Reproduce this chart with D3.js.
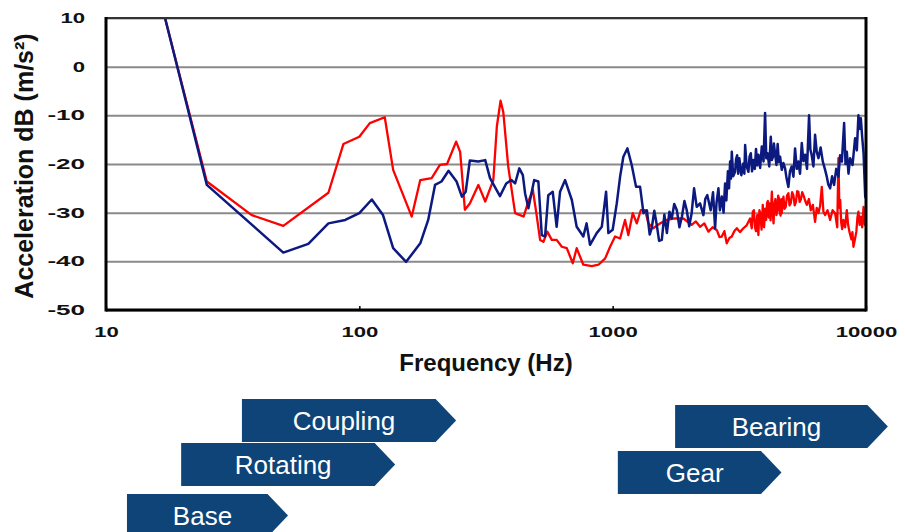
<!DOCTYPE html>
<html>
<head>
<meta charset="utf-8">
<script src="https://cdn.jsdelivr.net/npm/d3@7"></script>
<style>
body { margin: 0; background: #fff; }
svg { display: block; font-family: "Liberation Sans", Arial, sans-serif; }
</style>
</head>
<body>
<script>
// tick values
var xTicks = [10, 100, 1000, 10000];
var yTicks = [10, 0, -10, -20, -30, -40, -50];

// red trace: frequency (Hz) and level (dB)
var redHz = [17.1, 25, 37.6, 50.1, 75.5, 86.5, 100, 110, 126, 136,
  161, 174, 193, 208, 222, 241, 250, 261, 273, 295,
  314, 338, 349, 361, 370, 387, 412, 431, 445, 465,
  484, 501, 517, 533, 552, 575, 601, 630, 659, 696,
  721, 743, 766, 827, 879, 934, 977, 1022, 1070, 1119,
  1153, 1200, 1245, 1291, 1343, 1384, 1446, 1539, 1637, 1736,
  1902, 2050, 2130, 2213, 2300, 2388, 2480, 2578, 2640, 2696,
  2760, 2820, 2890, 2953, 3020, 3091, 3180, 3281, 3380, 3487,
  3540, 3575, 3610, 3645, 3680, 3720, 3760, 3795, 3830, 3870,
  3913, 3960, 4000, 4034, 4070, 4100, 4130, 4157, 4200, 4250,
  4280, 4315, 4350, 4390, 4430, 4467, 4500, 4530, 4565, 4600,
  4630, 4653, 4690, 4723, 4770, 4820, 4880, 4939, 4990, 5050,
  5110, 5169, 5230, 5290, 5350, 5408, 5470, 5530, 5600, 5662,
  5750, 5838, 5950, 6055, 6170, 6295, 6390, 6490, 6590, 6692,
  6790, 6895, 7050, 7217, 7380, 7551, 7700, 7783, 7850, 7910,
  7980, 8050, 8143, 8270, 8400, 8500, 8600, 8760, 8840, 8920,
  9040, 9160, 9250, 9335, 9440, 9540, 9660, 9780, 9900, 10000];
var redDb = [10, -23.6, -30.5, -32.7, -25.9, -15.9, -14.4, -11.6, -10.4, -21.2,
  -30.8, -23.3, -22.9, -20.2, -20, -15.4, -17.5, -29.4, -28.1, -24.3,
  -27.7, -23.3, -12.3, -7.0, -9.3, -20.5, -30.1, -30.5, -30.8, -27.7,
  -25.3, -30.5, -35.6, -36, -33.9, -35.6, -35.6, -37, -37.3, -40.4,
  -37.3, -39, -40.7, -41, -40.7, -39.4, -37, -34.9, -35.3, -31.5,
  -34.6, -30.1, -32.2, -29.5, -29.5, -32.2, -33.2, -32.2, -31.5, -31.2,
  -31.2, -32.5, -31.8, -32.9, -32.2, -33.9, -33, -33.6, -35, -34.9,
  -33.8, -36.3, -35.2, -34.9, -33.8, -33.2, -34, -33.2, -32.6, -31.2,
  -33.2, -29.8, -29.5, -33, -33.8, -30.5, -34.6, -29.5, -30.2, -33.5,
  -28.4, -33, -29.2, -31.5, -28, -27.6, -31, -28.1, -31.6, -25.7,
  -29.5, -32.2, -28.2, -27.2, -30.5, -29.5, -26.5, -27, -29.8, -30.6,
  -27.2, -30.1, -27.5, -26.7, -29.2, -28.8, -26.5, -26, -28.5, -28,
  -25.8, -26.4, -28.5, -27.8, -25.6, -25.7, -27.8, -27.3, -25.8, -26.4,
  -27.5, -28.4, -27.2, -29.5, -28.4, -31.9, -29, -30.1, -28.6, -24.7,
  -29.8, -30.5, -29.5, -31.5, -29.5, -30.1, -33, -18.8, -29, -27.4,
  -32, -33.4, -31.5, -33, -29.5, -32.5, -33.9, -35.5, -34, -37,
  -35.5, -33.9, -31, -29.8, -32.5, -30.8, -33, -28.8, -32.5, -31.2];

// blue trace: frequency (Hz) and level (dB)
var blueHz = [17.1, 25, 50.1, 62.9, 75.5, 88, 100, 112, 124, 136,
  153, 174, 187, 199, 211, 225, 242, 254, 263, 273,
  295, 314, 328, 359, 380, 399, 412, 428, 442, 451,
  465, 490, 509, 525, 541, 557, 580, 601, 620, 649,
  690, 721, 766, 789, 814, 865, 906, 942, 962, 1000,
  1038, 1070, 1102, 1143, 1189, 1237, 1283, 1323, 1365, 1400,
  1426, 1460, 1493, 1525, 1563, 1600, 1637, 1675, 1711, 1750,
  1792, 1835, 1877, 1920, 1961, 2005, 2050, 2096, 2147, 2213,
  2281, 2320, 2364, 2437, 2490, 2537, 2570, 2615, 2650, 2696,
  2740, 2778, 2810, 2850, 2880, 2908, 2930, 2953, 2990, 3042,
  3070, 3100, 3130, 3162, 3220, 3281, 3310, 3334, 3380, 3435,
  3470, 3510, 3550, 3594, 3640, 3680, 3720, 3760, 3820, 3878,
  3940, 3996, 4040, 4085, 4150, 4209, 4250, 4290, 4330, 4375,
  4430, 4480, 4530, 4580, 4650, 4720, 4793, 4860, 4939, 5010,
  5090, 5170, 5248, 5330, 5408, 5490, 5578, 5660, 5750, 5850,
  5960, 6030, 6100, 6200, 6295, 6390, 6490, 6620, 6753, 6880,
  7002, 7100, 7217, 7350, 7482, 7630, 7783, 7900, 8029, 8197,
  8300, 8400, 8530, 8656, 8850, 9057, 9200, 9335, 9450, 9540,
  9660, 9780, 9930, 10000];
var blueDb = [10, -24.3, -38.2, -36.4, -32.2, -31.5, -30.1, -27.3, -30.5, -37.3,
  -40.1, -36.3, -31.5, -24.3, -23.6, -21.4, -23.6, -26.7, -25.7, -19.3,
  -19.5, -19.2, -22.9, -26.6, -24, -23.3, -24, -20.9, -22.3, -26,
  -29.1, -23.3, -23.6, -34.6, -34.9, -26.4, -25.7, -32.9, -25.7, -23.3,
  -27.4, -32.9, -34.9, -32.2, -36.6, -34.2, -32.9, -25.7, -34.2, -33.5,
  -28.1, -22.6, -18.5, -16.8, -20.2, -24.7, -24.7, -30.1, -29.5, -34.5,
  -33.2, -29.6, -32.5, -35.8, -35.6, -30.4, -34.2, -29.8, -31.2, -28.2,
  -29.5, -33, -30.8, -27.6, -29.5, -32.8, -30.1, -25, -28.8, -28.1,
  -30.5, -27.2, -26.4, -29.5, -25.8, -33.2, -28, -25, -29.5, -26.7,
  -30, -24, -27.5, -21.5, -25, -19.5, -23, -17.5, -22.5, -21.6,
  -19, -18.2, -22, -18.8, -22.3, -19.9, -22, -16.1, -20.5, -21.6,
  -18.5, -17.8, -21.5, -19.2, -21, -16.9, -20.3, -18.1, -20.8, -16.4,
  -19.5, -9.5, -18.8, -17.8, -20.5, -14.4, -19.2, -18.6, -15.8, -17.8,
  -20.2, -15.9, -19.6, -18.5, -21.2, -19.8, -20.9, -23, -24.7, -21.5,
  -20.5, -22.6, -16.8, -21, -19.5, -22, -15.7, -19.4, -18.1, -21,
  -10, -17, -18.1, -20.5, -14, -17.5, -18.8, -16.6, -19.5, -21,
  -22.6, -24.2, -25, -22.5, -24.3, -21, -22.6, -18.2, -19.5, -11.6,
  -20, -17.5, -22, -18.8, -20.2, -14.7, -17.2, -10, -12.8, -10.6,
  -14.5, -17.8, -26.7, -27];

// component bands shown as arrows under the chart (start / end frequency)
var bandNames = ["Coupling", "Rotating", "Base", "Bearing", "Gear"];
var bandFromHz = [34.4, 19.8, 12.1, 1764, 1048];
var bandToHz = [241, 138.5, 52.3, 12200, 4638];

var margin = {top: 18, left: 106},
    width = 760,
    height = 292;

var svg = d3.select("body").append("svg")
    .attr("width", 905)
    .attr("height", 532);

var x = d3.scaleLog().domain([10, 10000]).range([0, width]);
var y = d3.scaleLinear().domain([-50, 10]).range([height, 0]);

var g = svg.append("g")
    .attr("transform", "translate(" + margin.left + "," + margin.top + ")");

// tick labels are drawn wide in the original
function labelWidth(d) {
    var s = String(Math.abs(d));
    return s.length * 12.3 + (d < 0 ? 13 : 0);
}

// Y axis with grid lines
g.append("g")
    .call(d3.axisLeft(y).tickValues(yTicks).tickSize(-width).tickPadding(21).tickFormat(function(d) { return String(d); }))
    .attr("font-family", null)
    .attr("font-size", null)
    .call(function(a) { a.select(".domain").remove(); })
    .call(function(a) { a.selectAll("line").attr("stroke", "#8a8a8a").attr("stroke-width", 2); })
    .call(function(a) {
        a.selectAll("text")
            .attr("font-size", 14)
            .attr("font-weight", "bold")
            .attr("fill", "#111")
            .attr("textLength", labelWidth)
            .attr("lengthAdjust", "spacingAndGlyphs");
    });

// X axis, small inner ticks
g.append("g")
    .attr("transform", "translate(0," + height + ")")
    .call(d3.axisBottom(x).tickValues(xTicks).tickSize(-4).tickFormat(function(d) { return String(d); }))
    .attr("font-family", null)
    .attr("font-size", null)
    .call(function(a) { a.select(".domain").remove(); })
    .call(function(a) { a.selectAll("line").attr("stroke", "#000").attr("stroke-width", 1.5); })
    .call(function(a) {
        a.selectAll("text")
            .attr("y", 17)
            .attr("dy", "0.71em")
            .attr("font-size", 14)
            .attr("font-weight", "bold")
            .attr("fill", "#111")
            .attr("textLength", labelWidth)
            .attr("lengthAdjust", "spacingAndGlyphs");
    });

// traces
g.append("clipPath").attr("id", "plotclip")
    .append("rect").attr("width", width).attr("height", height);

var line = d3.line()
    .x(function(d) { return x(d[0]); })
    .y(function(d) { return y(d[1]); });

g.append("path")
    .datum(d3.zip(redHz, redDb))
    .attr("clip-path", "url(#plotclip)")
    .attr("fill", "none")
    .attr("stroke", "#ff0000")
    .attr("stroke-width", 2.3)
    .attr("stroke-linejoin", "round")
    .attr("d", line);

g.append("path")
    .datum(d3.zip(blueHz, blueDb))
    .attr("clip-path", "url(#plotclip)")
    .attr("fill", "none")
    .attr("stroke", "#0c1a80")
    .attr("stroke-width", 2.5)
    .attr("stroke-linejoin", "round")
    .attr("d", line);

// frame
g.append("line").attr("x1", 0).attr("x2", width).attr("y1", 0).attr("y2", 0)
    .attr("stroke", "#333").attr("stroke-width", 2);
g.append("line").attr("x1", 0).attr("x2", 0).attr("y1", -1).attr("y2", height + 1.5)
    .attr("stroke", "#000").attr("stroke-width", 3);
g.append("line").attr("x1", width).attr("x2", width).attr("y1", -1).attr("y2", height + 1.5)
    .attr("stroke", "#000").attr("stroke-width", 3);
g.append("line").attr("x1", 0).attr("x2", width).attr("y1", height).attr("y2", height)
    .attr("stroke", "#000").attr("stroke-width", 3);

// axis titles
svg.append("text")
    .attr("x", margin.left + 380)
    .attr("y", 371)
    .attr("text-anchor", "middle")
    .attr("font-size", 24)
    .attr("font-weight", "bold")
    .attr("fill", "#111")
    .text("Frequency (Hz)");

svg.append("text")
    .attr("transform", "translate(33,166) rotate(-90)")
    .attr("text-anchor", "middle")
    .attr("font-size", 25)
    .attr("font-weight", "bold")
    .attr("fill", "#111")
    .text("Acceleration dB (m/s²)");

// band arrows
var rowTop = [399, 443, 494, 405, 451];
var boxH = 43, tip = 20.5;

bandNames.forEach(function(name, i) {
    var x0 = margin.left + x(bandFromHz[i]);
    var x1 = margin.left + x(bandToHz[i]);
    var t = rowTop[i];
    svg.append("path")
        .attr("d", "M" + x0 + "," + t + "H" + (x1 - tip) + "L" + x1 + "," + (t + boxH / 2) +
            "L" + (x1 - tip) + "," + (t + boxH) + "H" + x0 + "Z")
        .attr("fill", "#0f4478");
    svg.append("text")
        .attr("x", (x0 + x1) / 2 - 5)
        .attr("y", t + 30.5)
        .attr("text-anchor", "middle")
        .attr("font-size", 26)
        .attr("fill", "#fff")
        .text(name);
});
</script>
</body>
</html>
